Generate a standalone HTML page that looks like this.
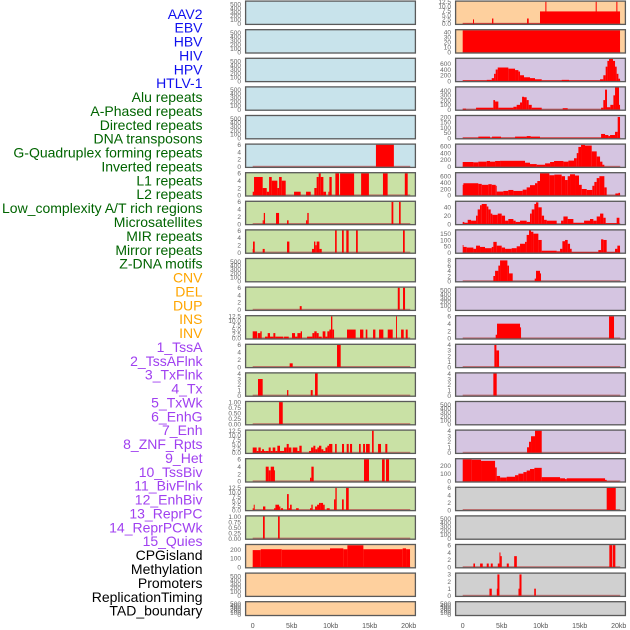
<!DOCTYPE html>
<html><head><meta charset="utf-8">
<style>
html,body{margin:0;padding:0;background:#fff;}
svg{display:block;}
text{font-family:"Liberation Sans",sans-serif;}
</style></head>
<body>
<svg id="chart" width="630" height="630" viewBox="0 0 630 630" xmlns="http://www.w3.org/2000/svg"></svg>
<script>
// ---------- labels ----------
const featureLabels = ["AAV2","EBV","HBV","HIV","HPV","HTLV-1","Alu repeats","A-Phased repeats","Directed repeats","DNA transposons","G-Quadruplex forming repeats","Inverted repeats","L1 repeats","L2 repeats","Low_complexity A/T rich regions","Microsatellites","MIR repeats","Mirror repeats","Z-DNA motifs","CNV","DEL","DUP","INS","INV","1_TssA","2_TssAFlnk","3_TxFlnk","4_Tx","5_TxWk","6_EnhG","7_Enh","8_ZNF_Rpts","9_Het","10_TssBiv","11_BivFlnk","12_EnhBiv","13_ReprPC","14_ReprPCWk","15_Quies","CPGisland","Methylation","Promoters","ReplicationTiming","TAD_boundary"];
const labelGroups = [6,13,5,15,5];
const groupColors = ["#1010ee","#006400","#ffa500","#a040f0","#000000"];

// ---------- x axis ----------
const xTicks = [0,5,10,15,20];
const xTickLabels = ["0","5kb","10kb","15kb","20kb"];

// ---------- left column panels: y max, ticks, segments [startKb,endKb,value] ----------
const leftYmax = [560,560,560,560,560,6,6,6,6,560,6,12.5,6,4,1,12.5,6,12.5,1,252,560,560];
const leftTicks = [
 [0,100,200,300,400,500],[0,100,200,300,400,500],[0,100,200,300,400,500],[0,100,200,300,400,500],[0,100,200,300,400,500],
 [0,2,4,6],[0,2,4,6],[0,2,4,6],[0,2,4,6],[0,100,200,300,400,500],[0,2,4,6],[0,2.5,5,7.5,10,12.5],[0,2,4,6],[0,1,2,3,4],
 [0,0.25,0.5,0.75,1],[0,2.5,5,7.5,10,12.5],[0,2,4,6],[0,2.5,5,7.5,10,12.5],[0,0.25,0.5,0.75,1],[0,100,200],
 [0,100,200,300,400,500],[0,100,200,300,400,500]];
const leftBg = ["#c8e3eb","#c8e3eb","#c8e3eb","#c8e3eb","#c8e3eb","#c8e3eb","#c9e1a5","#c9e1a5","#c9e1a5","#c9e1a5","#c9e1a5","#c9e1a5","#c9e1a5","#c9e1a5","#c9e1a5","#c9e1a5","#c9e1a5","#c9e1a5","#c9e1a5","#fed09e","#fed09e","#fed09e"];
const leftSegs = [
 null,null,null,null,null,
 [[15.8,18.1,6]],
 [[0,0.17,1],[0.17,1.28,5],[1.28,1.8,2],[1.8,2.1,1],[2.1,2.44,5],[2.44,3.16,4],[3.16,3.38,2],[3.38,3.72,5],[3.72,4.23,4],[5.3,6.15,1],[6.84,7.44,1],[7.9,8.2,2],[8.2,8.46,5],[8.46,8.72,6],[8.72,9.06,5],[9.06,9.4,1],[9.7,9.83,1],[9.83,10.13,5],[10.6,11.07,6],[11.2,13.0,6],[13.9,14.9,6],[16.7,17.3,6],[19.5,19.87,6]],
 [[1.28,1.42,1],[1.42,1.58,3],[2.99,3.38,3],[4.4,4.6,1],[6.84,7.0,1],[7.0,7.18,3],[17.8,18.03,6],[18.76,18.97,6]],
 [[0,0.04,1],[0.04,0.26,3],[1.28,1.54,1],[4.4,4.7,3],[7.6,7.86,1],[7.86,8.03,3],[8.03,8.2,2],[8.2,8.55,3],[8.55,8.85,1],[10.56,10.77,6],[11.45,11.67,6],[12.0,12.3,6],[13.25,13.47,6],[19.27,19.49,6]],
 null,
 [[6.03,6.28,1],[18.6,18.85,6],[19.27,19.53,6]],
 [[0,0.56,4],[0.64,0.98,3],[0.98,1.15,4],[1.58,1.92,1],[1.92,2.22,3],[2.22,2.65,1],[2.65,2.9,3],[2.9,3.93,1],[4.02,4.62,1],[5.04,5.43,3],[5.43,5.73,1],[5.73,6.15,3],[6.15,6.32,4],[6.97,7.65,1],[7.65,7.9,3],[7.9,8.2,4],[8.2,8.46,3],[8.46,8.85,1],[8.97,9.32,4],[9.32,9.57,1],[9.57,9.83,4],[9.83,10.04,5],[10.04,10.21,12.5],[10.21,10.43,5],[12.09,13.2,5],[13.76,14.19,5],[14.49,14.7,5],[15.43,15.73,5],[16.2,16.75,5],[17.31,17.95,5],[18.38,18.5,12.5],[19.02,19.36,5],[19.62,19.87,5]],
 [[4.74,5.13,1],[10.81,11.28,6]],
 [[0.68,1.28,3],[4.4,4.57,1],[7.44,7.69,1],[7.99,8.33,4]],
 [[3.38,3.85,1]],
 [[0,0.51,3],[0.51,0.73,1],[0.73,1.03,3],[1.03,1.2,1],[1.2,1.45,2],[1.45,1.67,1],[1.67,2.05,1],[2.05,2.31,3],[2.31,2.56,1],[2.56,2.9,3],[2.9,3.16,1],[3.16,3.5,4],[3.5,4.02,1],[4.02,4.36,3],[4.36,4.62,5],[4.62,4.96,3],[5.13,5.73,3],[5.73,5.98,1],[5.98,6.28,4],[7.22,7.48,1],[7.48,7.78,3],[7.78,8.03,4],[8.03,8.29,2],[8.29,8.5,3],[8.5,8.8,4],[8.8,9.06,2],[9.06,9.32,1],[9.32,9.57,3],[9.57,9.79,4],[9.79,10.21,5],[10.56,10.77,5],[11.45,11.71,5],[12.05,12.31,5],[12.48,12.74,5],[13.63,13.85,5],[14.15,14.4,5],[14.53,15.0,5],[15.3,15.51,12.5],[16.07,16.45,5],[17.0,17.26,5]],
 [[1.67,2.05,4],[2.05,2.31,3],[2.31,2.74,4],[2.74,2.86,3],[7.35,7.52,1],[7.52,7.82,4],[14.27,14.91,6],[16.58,16.92,6],[17.09,17.48,6]],
 [[0,0.13,1],[0.13,0.26,3],[1.32,1.62,2],[2.74,2.91,1],[2.91,3.38,3],[3.38,3.55,2],[3.63,3.89,1],[4.4,4.62,9],[4.62,4.79,1],[4.79,5.0,3],[5.56,5.9,1],[7.35,7.52,1],[7.52,7.69,3],[7.99,8.25,2],[8.25,8.5,3],[8.5,8.68,4],[8.68,9.02,4],[9.02,9.23,3],[9.49,9.87,1],[10.43,10.6,6],[10.6,10.77,12.5],[11.45,11.67,6],[11.97,12.31,12.5]],
 [[1.32,1.54,1],[3.25,3.46,1]],
 [[0,1.03,195],[1.03,3.72,205],[3.72,9.91,200],[9.91,11.62,215],[11.62,12.14,205],[12.14,14.19,250],[14.19,19.23,205],[19.23,19.66,215],[19.66,20.17,205]],
 null,null
];

// ---------- right column panels ----------
const rightYmax = [12.5,44,770,465,208,645,690,53,175,8.5,560,6,4,4,560,4,285,6,560,6,3.1,560];
const rightTicks = [
 [0,2.5,5,7.5,10,12.5],[0,10,20,30,40],[0,200,400,600],[0,100,200,300,400],[0,50,100,150,200],[0,200,400,600],[0,200,400,600],
 [0,20,40],[0,50,100,150],[0,2,4,6,8],[0,100,200,300,400,500],[0,2,4,6],[0,1,2,3,4],[0,1,2,3,4],[0,100,200,300,400,500],
 [0,1,2,3,4],[0,100,200],[0,2,4,6],[0,100,200,300,400,500],[0,2,4,6],[0,1,2,3],[0,100,200,300,400,500]];
const rightBg = ["#fed09e","#fed09e","#d5c5e1","#d5c5e1","#d5c5e1","#d5c5e1","#d5c5e1","#d5c5e1","#d5c5e1","#d5c5e1","#d5c5e1","#d5c5e1","#d5c5e1","#d5c5e1","#d5c5e1","#d5c5e1","#d5c5e1","#d0d0d0","#d0d0d0","#d0d0d0","#d0d0d0","#d0d0d0"];
const rightSegs = [
 [[0,9.91,0.3],[1.32,1.45,2.5],[3.76,3.93,3],[8.25,8.46,3],[9.91,20.17,7],[10.6,10.73,12.5],[17.05,17.18,12.5],[19.7,19.83,12.5]],
 [[0,20.17,44]],
 [[0,3.08,20],[3.08,3.72,40],[3.72,4.02,100],[4.02,4.23,250],[4.23,4.49,400],[4.49,5.85,470],[5.85,6.71,430],[6.71,7.14,380],[7.14,7.35,330],[7.35,7.86,200],[7.86,8.63,130],[8.63,9.27,100],[9.27,10.13,60],[10.13,12.69,20],[12.69,13.63,40],[13.63,17.61,20],[17.61,18.03,60],[18.03,18.33,200],[18.33,18.55,500],[18.55,18.76,700],[18.76,19.27,770],[19.27,19.53,700],[19.53,19.74,500],[19.74,19.96,250],[19.96,20.17,80]],
 [[0,0.43,20],[0.43,1.71,5],[1.71,3.93,40],[3.93,4.15,200],[4.15,4.57,170],[4.57,6.5,40],[6.5,6.92,60],[6.92,7.35,100],[7.35,7.61,150],[7.61,7.86,270],[7.86,8.2,260],[8.2,8.46,200],[8.46,8.85,100],[8.85,10.13,40],[10.13,12.82,5],[12.82,13.46,30],[13.46,17.74,5],[17.74,18.03,40],[18.03,18.25,200],[18.25,18.5,420],[18.5,18.93,50],[18.93,19.32,100],[19.32,19.53,300],[19.53,20.04,465],[20.04,20.17,100]],
 [[0,2.0,5],[2.0,3.5,15],[3.5,3.76,5],[3.76,4.91,15],[4.91,6.71,5],[6.71,8.2,15],[8.2,8.72,20],[8.72,9.91,15],[9.91,17.74,5],[17.74,18.25,40],[18.25,18.68,30],[18.68,18.89,20],[18.89,19.53,30],[19.53,19.87,60],[19.87,20.17,200]],
 [[0,1.37,140],[1.37,2.0,130],[2.0,3.08,150],[3.08,3.5,170],[3.5,4.15,150],[4.15,4.79,170],[4.79,7.99,175],[7.99,8.63,120],[8.63,9.49,80],[9.49,10.56,60],[10.56,11.2,100],[11.2,11.71,140],[11.71,12.91,170],[12.91,13.55,150],[13.55,14.27,180],[14.27,14.62,250],[14.62,14.83,400],[14.83,15.17,580],[15.17,15.68,640],[15.68,16.54,620],[16.54,17.18,450],[17.18,17.61,300],[17.61,17.91,150],[17.91,18.16,60],[18.16,20.09,5]],
 [[0,0.09,330],[0.09,2.0,380],[2.0,2.44,360],[2.44,3.29,330],[3.29,3.72,350],[3.72,4.23,330],[4.23,4.36,300],[4.36,5.21,120],[5.21,5.85,140],[5.85,6.5,170],[6.5,7.69,140],[7.69,8.2,180],[8.2,8.63,250],[8.63,9.27,320],[9.27,9.57,380],[9.57,9.91,450],[9.91,11.11,690],[11.11,11.75,630],[11.75,12.69,650],[12.69,13.12,600],[13.12,13.46,480],[13.46,13.76,600],[13.76,14.4,660],[14.4,14.91,620],[14.91,15.26,330],[15.26,15.9,200],[15.9,16.62,170],[16.62,16.88,300],[16.88,17.18,420],[17.18,17.52,540],[17.52,18.16,600],[18.16,18.46,250],[18.46,19.57,5],[19.57,19.96,60],[19.96,20.17,80]],
 [[0,0.21,5],[0.21,0.64,3],[0.64,1.07,10],[1.07,1.71,8],[1.71,1.92,20],[1.92,2.22,35],[2.22,2.44,45],[2.44,3.08,48],[3.08,3.29,42],[3.29,3.59,35],[3.59,3.8,25],[3.8,4.49,22],[4.49,5.0,25],[5.0,5.43,20],[5.43,5.85,8],[5.85,6.5,12],[6.5,6.79,8],[6.79,7.35,5],[7.35,8.2,8],[8.2,8.63,5],[8.63,8.85,25],[8.85,9.19,35],[9.19,9.4,48],[9.4,9.7,52],[9.7,10.13,40],[10.13,10.43,20],[10.43,10.77,10],[10.77,12.05,8],[12.61,12.91,8],[12.91,13.46,18],[13.46,14.19,12],[14.19,15.56,3],[15.56,16.32,8],[16.32,16.75,12],[16.75,17.18,8],[17.18,17.61,18],[17.61,18.03,25],[18.03,18.33,15],[18.33,19.74,2],[19.74,20.09,15]],
 [[0,0.09,60],[0.09,0.51,45],[0.51,1.37,40],[1.37,1.71,30],[1.71,2.22,55],[2.22,2.86,45],[2.86,3.72,35],[3.72,3.93,45],[3.93,4.36,85],[4.36,5.0,55],[5.0,5.43,40],[5.43,6.28,30],[6.28,6.92,35],[6.92,7.35,50],[7.35,7.99,70],[7.99,8.2,85],[8.2,8.5,140],[8.5,8.76,175],[8.76,9.06,165],[9.06,9.7,150],[9.7,10.13,100],[10.13,12.05,15],[12.05,12.48,10],[12.48,12.78,30],[12.78,13.12,90],[13.12,13.46,100],[13.46,13.76,70],[13.76,13.97,30],[13.97,17.39,5],[17.39,17.74,20],[17.74,18.03,105],[18.03,18.46,100],[18.46,19.53,5],[19.53,19.83,30],[19.83,20.17,55]],
 [[3.93,4.15,2],[4.15,4.57,4],[4.57,4.79,6],[4.79,5.73,8],[5.73,5.94,6],[5.94,6.41,3],[9.23,9.4,1],[9.4,9.91,4],[9.91,10.04,3]],
 null,
 [[4.23,4.4,1],[4.4,7.35,4],[7.35,7.48,3],[18.76,19.4,6]],
 [[4.06,4.32,4],[4.32,4.66,3]],
 [[3.93,4.36,4]],
 null,
 [[8.25,8.5,1],[8.5,8.76,2],[8.76,9.27,3],[9.27,10.13,4]],
 [[0,1.15,285],[1.15,2.35,280],[2.35,4.15,265],[4.15,4.36,180],[4.36,4.79,70],[4.79,5.64,50],[5.64,6.71,60],[6.71,7.14,80],[7.14,7.78,100],[7.78,8.2,120],[8.2,8.63,140],[8.63,9.19,160],[9.19,10.13,175],[10.13,12.48,55],[12.48,13.12,40],[13.12,13.33,30],[13.33,18.25,40],[18.25,18.46,20],[18.46,20.04,3]],
 [[18.46,19.62,6]],
 null,
 [[1.37,1.58,1],[2.23,2.57,1],[3.08,3.34,1],[3.6,3.85,1],[4.5,4.71,1],[4.71,4.84,4],[4.84,5.01,3],[5.65,5.91,1],[6.6,6.94,3],[18.8,19.19,6],[19.27,19.57,6]],
 [[3.43,3.73,1],[4.37,4.45,1],[4.45,4.71,3],[7.15,7.28,1],[7.28,7.54,3],[9.17,9.38,1]],
 null
];

// ---------- drawing ----------
const NS = "http://www.w3.org/2000/svg";
const svg = document.getElementById("chart");
function mk(tag, attrs, parent) {
  const e = document.createElementNS(NS, tag);
  for (const k in attrs) e.setAttribute(k, attrs[k]);
  (parent || svg).appendChild(e);
  return e;
}
const ROWS = 22, PITCH = 28.6, TOP0 = 0.5, PH = 24.5;
function rowTop(i){ return TOP0 + i * PITCH; }
function rowH(i){ return i === ROWS - 1 ? 15 : PH; }
const cols = [
  {x0:245, x1:416, zeroX:252.7, kbPx:7.8, tickX:241, ymax:leftYmax, ticks:leftTicks, bg:leftBg, segs:leftSegs, name:"left"},
  {x0:455, x1:626, zeroX:462.7, kbPx:7.8, tickX:451, ymax:rightYmax, ticks:rightTicks, bg:rightBg, segs:rightSegs, name:"right"}
];
function fmt(v, ticks){
  const step = ticks[1] - ticks[0];
  if (step < 1 && step >= 0.1) return v.toFixed(2);
  if (step % 1 !== 0) return v.toFixed(1);
  if (step < 0.1) return v.toFixed(2);
  return String(v);
}

// labels
let li = 0;
labelGroups.forEach((n, g) => {
  for (let k = 0; k < n; k++, li++) {
    const t = mk("text", {x:202.5, y:(18.8 + li * 13.88).toFixed(1), "text-anchor":"end", "font-size":"14", fill:groupColors[g]});
    
    
    t.textContent = featureLabels[li];
  }
});

cols.forEach(c => {
  const xs = kb => c.zeroX + kb * c.kbPx;
  for (let i = 0; i < ROWS; i++) {
    const top = rowTop(i), h = rowH(i);
    const g = mk("g", {});
    
    
    mk("rect", {x:c.x0, y:top, width:c.x1 - c.x0, height:h, fill:c.bg[i]}, g);
    const base = top + h - 1.2, span = h - 2.4;
    const ys = v => base - (v / c.ymax[i]) * span;
    const segs = c.segs[i];
    if (segs) {
      const bl = mk("rect", {x:xs(0), y:base - 1, width:xs(20.2) - xs(0), height:2, fill:"#b85050", opacity:"0.75"}, g);
      
      
      segs.forEach(s => {
        const y = ys(Math.min(s[2], c.ymax[i]));
        const b = mk("rect", {x:xs(s[0]).toFixed(2), y:y.toFixed(2), width:Math.max(0.8, xs(s[1]) - xs(s[0])).toFixed(2), height:(base - y).toFixed(2), fill:"#ff0000"}, g);
        
        
      });
    }
    mk("rect", {x:c.x0 + 0.6, y:top + 0.6, width:c.x1 - c.x0 - 1.2, height:h - 1.2, fill:"none", stroke:"#5a5a5a", "stroke-width":"1.3"}, g);
    // y ticks
    const tk = c.ticks[i];
    tk.forEach(v => {
      const t = mk("text", {x:c.tickX, y:(ys(v) + 2.3).toFixed(1), "text-anchor":"end", "font-size":"6.5", fill:"#666"}, g);
      
      
      t.textContent = fmt(v, tk);
    });
  }
  // x ticks
  xTicks.forEach((v, k) => {
    const t = mk("text", {x:xs(v).toFixed(1), y:628, "text-anchor":"middle", "font-size":"7", fill:"#555"});
    
    
    t.textContent = xTickLabels[k];
  });
});
</script>
</body></html>
